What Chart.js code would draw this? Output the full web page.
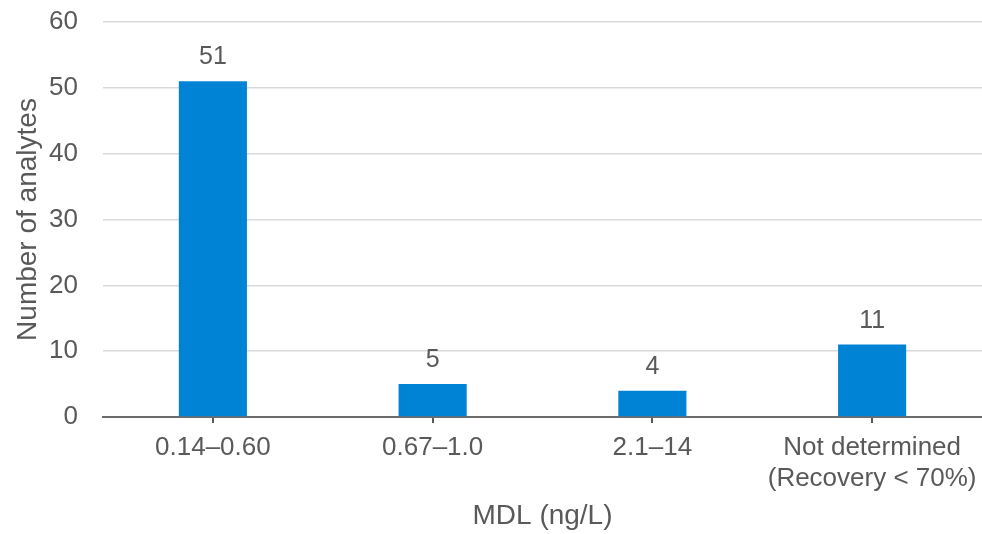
<!DOCTYPE html>
<html>
<head>
<meta charset="utf-8">
<script src="https://cdn.jsdelivr.net/npm/chart.js@4/dist/chart.umd.min.js"></script>
<style>
  html, body { margin: 0; padding: 0; background: #ffffff; }
  #wrap { width: 982px; height: 534px; }
</style>
</head>
<body>
<div id="wrap"><canvas id="chart" width="982" height="534"></canvas></div>
<script>
// MDL ranges and how many analytes fall into each
const categories = ['0.14–0.60', '0.67–1.0', '2.1–14', ['Not determined', '(Recovery < 70%)']];
const analyteCounts = [51, 5, 4, 11];
const yTicks = [0, 10, 20, 30, 40, 50, 60];

const textColor = '#595959';
const fontFamily = '"Liberation Sans", Arial, sans-serif';

// Writes each bar's value just above it
const valueLabels = {
  id: 'valueLabels',
  afterDatasetsDraw(chart) {
    const ctx = chart.ctx;
    const meta = chart.getDatasetMeta(0);
    ctx.save();
    ctx.fillStyle = textColor;
    ctx.font = '25px ' + fontFamily;
    ctx.textAlign = 'center';
    ctx.textBaseline = 'alphabetic';
    meta.data.forEach((bar, i) => {
      ctx.fillText(String(analyteCounts[i]), bar.x, bar.y - 17);
    });
    ctx.restore();
  }
};

new Chart(document.getElementById('chart'), {
  type: 'bar',
  data: {
    labels: categories,
    datasets: [{
      data: analyteCounts,
      backgroundColor: '#0083d5',
      borderWidth: 0,
      categoryPercentage: 1,
      barPercentage: 0.31
    }]
  },
  options: {
    responsive: false,
    animation: false,
    layout: { padding: { top: 22, right: 0, bottom: 0, left: 2 } },
    plugins: { legend: { display: false }, tooltip: { enabled: false } },
    scales: {
      x: {
        afterFit(axis) {
          axis.height = 117;
          axis.paddingLeft = 0;
          axis.paddingRight = 0;
        },
        grid: {
          offset: false,
          drawOnChartArea: false,
          drawTicks: true,
          tickLength: 6,
          color: textColor,
          lineWidth: 2
        },
        border: { display: true, color: '#6b6b6b', width: 2 },
        ticks: {
          color: textColor,
          font: { family: fontFamily, size: 26, lineHeight: 1.2 },
          padding: 9,
          maxRotation: 0,
          autoSkip: false
        },
        title: {
          display: true,
          text: 'MDL (ng/L)',
          color: textColor,
          font: { family: fontFamily, size: 28, lineHeight: 1.0 },
          padding: { top: 0, bottom: 4 }
        }
      },
      y: {
        min: 0,
        max: 60,
        afterBuildTicks(axis) { axis.ticks = yTicks.map(v => ({ value: v })); },
        afterFit(axis) {
          axis.width = 101;
          axis.paddingTop = 0;
          axis.paddingBottom = 0;
        },
        grid: { color: '#d9d9d9', lineWidth: 1.5, drawTicks: false },
        border: { display: false },
        ticks: {
          color: textColor,
          font: { family: fontFamily, size: 26 },
          padding: 25
        },
        title: {
          display: true,
          text: 'Number of analytes',
          color: textColor,
          font: { family: fontFamily, size: 28 },
          padding: { top: 9, bottom: 0 }
        }
      }
    }
  },
  plugins: [valueLabels]
});
</script>
</body>
</html>
